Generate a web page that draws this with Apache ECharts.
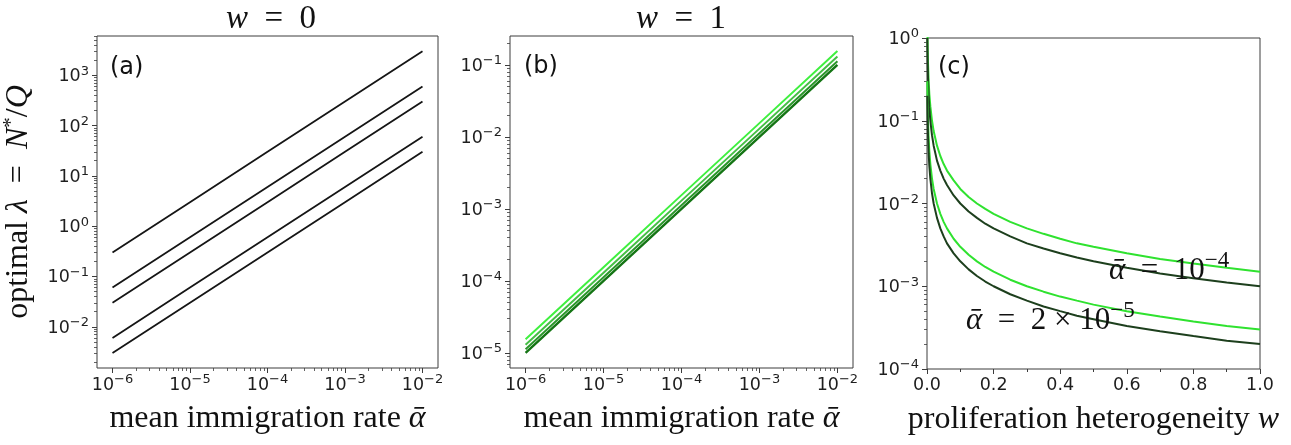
<!DOCTYPE html>
<html>
<head>
<meta charset="utf-8">
<script src="https://cdn.jsdelivr.net/npm/echarts@6/dist/echarts.min.js"></script>
<style>
  html, body { margin: 0; padding: 0; background: #ffffff; }
  #chart { width: 1291px; height: 445px; }
</style>
</head>
<body>
<div id="chart"></div>
<script>
// Mean immigration rate values used by panels (a) and (b)
const alphaBar = [1e-6, 1e-5, 1e-4, 1e-3, 1e-2];

// Panel (a): optimal lambda at w = 0, one line per parameter set
const lamW0_1 = [0.3, 3, 30, 300, 3000];
const lamW0_2 = [0.06, 0.6, 6, 60, 600];
const lamW0_3 = [0.03, 0.3, 3, 30, 300];
const lamW0_4 = [0.006, 0.06, 0.6, 6, 60];
const lamW0_5 = [0.003, 0.03, 0.3, 3, 30];

// Panel (b): optimal lambda at w = 1
const lamW1_1 = [1.55e-5, 1.55e-4, 1.55e-3, 1.55e-2, 0.155];
const lamW1_2 = [1.3e-5, 1.3e-4, 1.3e-3, 1.3e-2, 0.13];
const lamW1_3 = [1.12e-5, 1.12e-4, 1.12e-3, 1.12e-2, 0.112];
const lamW1_4 = [1.0e-5, 1.0e-4, 1.0e-3, 1.0e-2, 0.1];

// Panel (c): optimal lambda against proliferation heterogeneity w
const wGrid = [0.001, 0.002, 0.003, 0.005, 0.007, 0.01, 0.015, 0.02, 0.03, 0.04, 0.05, 0.06, 0.08,
               0.1, 0.125, 0.15, 0.175, 0.2, 0.25, 0.3, 0.35, 0.4, 0.45, 0.5, 0.6, 0.7, 0.8, 0.9, 1.0];
const lamA1e4_light = [1.5, 0.75, 0.5, 0.3, 0.21, 0.15, 0.1, 0.075, 0.05, 0.0375, 0.03, 0.025, 0.019,
                       0.015, 0.012, 0.01, 0.0086, 0.0075, 0.006, 0.005, 0.0043, 0.00375, 0.0033, 0.003,
                       0.0025, 0.00214, 0.00188, 0.00167, 0.0015];
const lamA1e4_dark = [1.0, 0.5, 0.33, 0.2, 0.143, 0.1, 0.067, 0.05, 0.033, 0.025, 0.02, 0.0167, 0.0125,
                      0.01, 0.008, 0.0067, 0.0057, 0.005, 0.004, 0.0033, 0.00286, 0.0025, 0.00222, 0.002,
                      0.00167, 0.00143, 0.00125, 0.00111, 0.001];
const lamA2e5_light = [0.3, 0.15, 0.1, 0.06, 0.043, 0.03, 0.02, 0.015, 0.01, 0.0075, 0.006, 0.005, 0.00375,
                       0.003, 0.0024, 0.002, 0.00171, 0.0015, 0.0012, 0.001, 0.00086, 0.00075, 0.00067, 0.0006,
                       0.0005, 0.00043, 0.000375, 0.00033, 0.0003];
const lamA2e5_dark = [0.2, 0.1, 0.067, 0.04, 0.0286, 0.02, 0.0133, 0.01, 0.0067, 0.005, 0.004, 0.0033, 0.0025,
                      0.002, 0.0016, 0.00133, 0.00114, 0.001, 0.0008, 0.00067, 0.00057, 0.0005, 0.00044, 0.0004,
                      0.00033, 0.000286, 0.00025, 0.00022, 0.0002];

// Tick values
const xTicksAB = [1e-6, 1e-5, 1e-4, 1e-3, 1e-2];
const yTicksA = [1e-2, 1e-1, 1, 10, 100, 1000];
const yTicksB = [1e-5, 1e-4, 1e-3, 1e-2, 1e-1];
const yTicksC = [1e-4, 1e-3, 1e-2, 1e-1, 1];

// Colours
const INK = '#1e1e1e';
const FRAME = '#3c3c3c';
const BLACK_LINE = '#151515';
const GREENS_B = ['#3ff03f', '#45bf45', '#2a962a', '#157515'];
const GREEN_LIGHT = '#2fe22f';
const GREEN_DARK = '#1d3f1d';

const SANS = '"DejaVu Sans", sans-serif';
const SERIF = '"Liberation Serif", "DejaVu Serif", serif';
const SP = '\u2002'; // en space, for the wider spacing around relations

const pairs = (xs, ys) => xs.map((x, i) => [x, ys[i]]);

// 2..9 x 10^k minor ticks between two exponents
function minorLogTicks(e0, e1) {
  const out = [];
  for (let e = e0; e <= e1; e++) {
    for (let m = 2; m <= 9; m++) out.push(m * Math.pow(10, e));
  }
  return out;
}

function powLabel(v) {
  const e = Math.round(Math.log10(v));
  return '{b|10}{s|' + (e < 0 ? '\u2212' + (-e) : String(e)) + '}';
}

const tickRich = {
  b: { fontFamily: SANS, fontSize: 17.5, color: INK, lineHeight: 21, verticalAlign: 'bottom' },
  s: { fontFamily: SANS, fontSize: 13, color: INK, lineHeight: 13, verticalAlign: 'top' }
};

// a log axis as two stacked axes: labelled decades and unlabelled minor ticks
function logAxes(dim, gridIndex, min, max, majors, minors, extra) {
  const pos = dim === 'x' ? 'bottom' : 'left';
  const major = Object.assign({
    type: 'log', gridIndex, position: pos, min, max,
    axisLine: { show: false },
    splitLine: { show: false },
    axisTick: { show: true, length: 5, lineStyle: { color: FRAME, width: 1 }, customValues: majors },
    axisLabel: { show: true, margin: dim === 'x' ? 5 : 8, formatter: powLabel, rich: tickRich, customValues: majors }
  }, extra || {});
  const minor = {
    type: 'log', gridIndex, position: pos, min, max,
    axisLine: { show: false },
    splitLine: { show: false },
    axisTick: { show: true, length: 3, lineStyle: { color: FRAME, width: 0.8 }, customValues: minors },
    axisLabel: { show: false }
  };
  return [major, minor];
}

const NAME_SIZE = 32;
const axisNameStyle = {
  rich: {
    r: { fontFamily: SERIF, fontSize: NAME_SIZE, color: '#111', lineHeight: 36 },
    i: { fontFamily: SERIF, fontStyle: 'italic', fontSize: NAME_SIZE, color: '#111', lineHeight: 36 },
    s: { fontFamily: SERIF, fontSize: 21, color: '#111', lineHeight: 20, verticalAlign: 'top' }
  }
};

const xName = '{r|mean immigration rate }{i|\u1FB1}';

const xAxes = [
  ...logAxes('x', 0, Math.pow(10, -6.2), Math.pow(10, -1.8), xTicksAB, minorLogTicks(-6, -3), {
    name: xName, nameLocation: 'middle', nameGap: 33, nameTextStyle: axisNameStyle
  }),
  ...logAxes('x', 1, Math.pow(10, -6.2), Math.pow(10, -1.8), xTicksAB, minorLogTicks(-6, -3), {
    name: xName, nameLocation: 'middle', nameGap: 33, nameTextStyle: axisNameStyle
  }),
  {
    type: 'value', gridIndex: 2, position: 'bottom', min: 0, max: 1, interval: 0.2,
    axisLine: { show: false }, splitLine: { show: false },
    axisTick: { show: true, length: 5, lineStyle: { color: FRAME } },
    minorTick: { show: true, splitNumber: 2, length: 3, lineStyle: { color: FRAME } },
    axisLabel: { margin: 7, fontFamily: SANS, fontSize: 17.5, color: INK, formatter: v => v.toFixed(1) },
    name: '{r|proliferation heterogeneity }{i|w}', nameLocation: 'middle', nameGap: 33, nameTextStyle: axisNameStyle
  }
];

const yAxes = [
  ...logAxes('y', 0, Math.pow(10, -2.82), Math.pow(10, 3.78), yTicksA, minorLogTicks(-3, 3), {
    name: '{r|optimal }{i|\u03BB}{r|' + SP + '=' + SP + '}{i|N}{s|*}{r|/}{i|Q}', nameLocation: 'middle', nameGap: 60,
    nameRotate: 90, nameTextStyle: axisNameStyle
  }),
  ...logAxes('y', 1, Math.pow(10, -5.21), Math.pow(10, -0.6), yTicksB, minorLogTicks(-6, -1)),
  ...logAxes('y', 2, 1e-4, 1, yTicksC, minorLogTicks(-4, -1))
];

function line(xi, yi, data, color, width) {
  return {
    type: 'line', xAxisIndex: xi, yAxisIndex: yi, data, showSymbol: false, symbol: 'none',
    lineStyle: { color, width: width || 2 }, emphasis: { disabled: true }, silent: true, z: 3
  };
}

const series = [
  line(0, 0, pairs(alphaBar, lamW0_1), BLACK_LINE, 1.8),
  line(0, 0, pairs(alphaBar, lamW0_2), BLACK_LINE, 1.8),
  line(0, 0, pairs(alphaBar, lamW0_3), BLACK_LINE, 1.8),
  line(0, 0, pairs(alphaBar, lamW0_4), BLACK_LINE, 1.8),
  line(0, 0, pairs(alphaBar, lamW0_5), BLACK_LINE, 1.8),

  line(2, 2, pairs(alphaBar, lamW1_4), GREENS_B[3], 2.4),
  line(2, 2, pairs(alphaBar, lamW1_3), GREENS_B[2], 2),
  line(2, 2, pairs(alphaBar, lamW1_2), GREENS_B[1], 2),
  line(2, 2, pairs(alphaBar, lamW1_1), GREENS_B[0], 2),

  line(4, 4, pairs(wGrid, lamA1e4_light), GREEN_LIGHT, 2),
  line(4, 4, pairs(wGrid, lamA1e4_dark), GREEN_DARK, 2),
  line(4, 4, pairs(wGrid, lamA2e5_light), GREEN_LIGHT, 2),
  line(4, 4, pairs(wGrid, lamA2e5_dark), GREEN_DARK, 2)
];

function mathRich(size, supSize) {
  return {
    r: { fontFamily: SERIF, fontSize: size, color: '#111', lineHeight: size * 1.2, verticalAlign: 'bottom' },
    i: { fontFamily: SERIF, fontStyle: 'italic', fontSize: size, color: '#111', lineHeight: size * 1.2, verticalAlign: 'bottom' },
    s: { fontFamily: SERIF, fontSize: supSize, color: '#111', lineHeight: supSize, verticalAlign: 'top' }
  };
}

function textEl(x, y, text, align, rich, font) {
  return {
    type: 'text', x, y, silent: true, z: 10,
    style: Object.assign({ text, align: align || 'left', verticalAlign: 'middle', fill: '#111' },
      rich ? { rich } : {}, font ? { font } : {})
  };
}

const LETTER_FONT = '24px "DejaVu Sans", sans-serif';

const graphics = [
  textEl(271, 16, '{i|w}{r|' + SP + '=' + SP + '0}', 'center', mathRich(33, 23)),
  textEl(681, 16, '{i|w}{r|' + SP + '=' + SP + '1}', 'center', mathRich(33, 23)),
  textEl(110, 68, '(a)', 'left', null, LETTER_FONT),
  textEl(524, 67, '(b)', 'left', null, LETTER_FONT),
  textEl(938, 68, '(c)', 'left', null, LETTER_FONT),
  textEl(1109, 268, '{i|\u1FB1}{r|' + SP + '=' + SP + '10}{s|\u22124}', 'left', mathRich(31, 23)),
  textEl(966, 318, '{i|\u1FB1}{r|' + SP + '=' + SP + '2 \u00D7 10}{s|\u22125}', 'left', mathRich(31, 23))
];

const grid = [
  { left: 97, top: 36, width: 341, height: 332 },
  { left: 510, top: 36, width: 343, height: 332 },
  { left: 927, top: 38, width: 333, height: 331 }
].map(g => Object.assign({ show: true, borderColor: FRAME, borderWidth: 1, backgroundColor: 'transparent', containLabel: false }, g));

const chart = echarts.init(document.getElementById('chart'), null, { renderer: 'canvas' });
chart.setOption({
  animation: false,
  backgroundColor: '#ffffff',
  grid,
  xAxis: xAxes,
  yAxis: yAxes,
  series,
  graphic: graphics
});
</script>
</body>
</html>
